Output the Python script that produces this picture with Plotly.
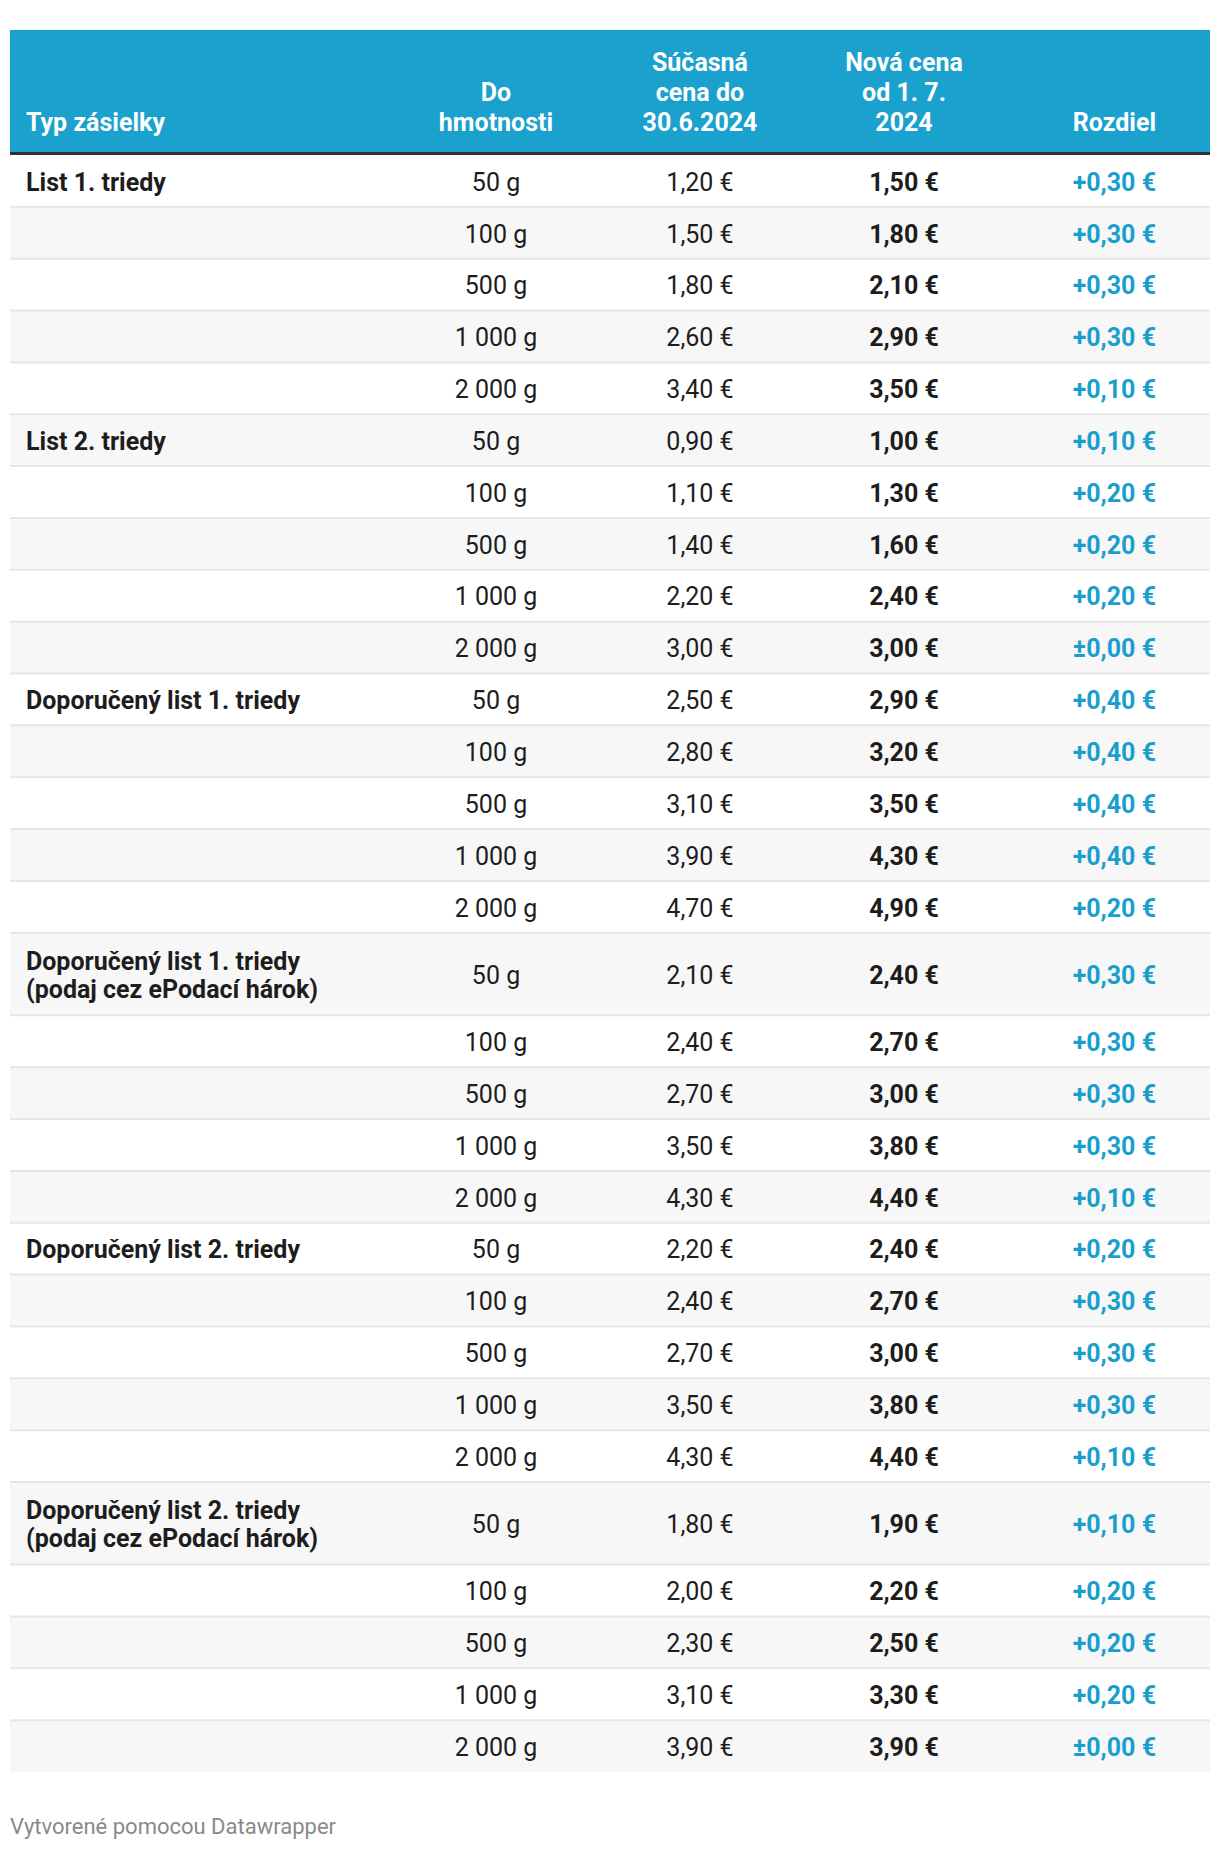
import plotly.graph_objects as go

# ---------------- data ----------------
types = [
    "List 1. triedy",
    "List 2. triedy",
    "Doporučený list 1. triedy",
    "Doporučený list 1. triedy<br>(podaj cez ePodací hárok)",
    "Doporučený list 2. triedy",
    "Doporučený list 2. triedy<br>(podaj cez ePodací hárok)",
]
weights_g = [50, 100, 500, 1000, 2000]

current_price = [
    1.20, 1.50, 1.80, 2.60, 3.40,
    0.90, 1.10, 1.40, 2.20, 3.00,
    2.50, 2.80, 3.10, 3.90, 4.70,
    2.10, 2.40, 2.70, 3.50, 4.30,
    2.20, 2.40, 2.70, 3.50, 4.30,
    1.80, 2.00, 2.30, 3.10, 3.90,
]
new_price = [
    1.50, 1.80, 2.10, 2.90, 3.50,
    1.00, 1.30, 1.60, 2.40, 3.00,
    2.90, 3.20, 3.50, 4.30, 4.90,
    2.40, 2.70, 3.00, 3.80, 4.40,
    2.40, 2.70, 3.00, 3.80, 4.40,
    1.90, 2.20, 2.50, 3.30, 3.90,
]
difference = [
    0.30, 0.30, 0.30, 0.30, 0.10,
    0.10, 0.20, 0.20, 0.20, 0.00,
    0.40, 0.40, 0.40, 0.40, 0.20,
    0.30, 0.30, 0.30, 0.30, 0.10,
    0.20, 0.30, 0.30, 0.30, 0.10,
    0.10, 0.20, 0.20, 0.20, 0.00,
]
headers = [
    ["Typ zásielky"],
    ["Do", "hmotnosti"],
    ["Súčasná", "cena do", "30.6.2024"],
    ["Nová cena", "od 1. 7.", "2024"],
    ["Rozdiel"],
]
footer = "Vytvorené pomocou Datawrapper"

# ---------------- layout constants ----------------
W, H = 1220, 1850
OFF = 8  # default page body margin
FONT = "Roboto"
FS = 25
BLUE = "#1ba1cd"
DIFF_BLUE = "#1a9fcc"
TEXT = "#1d1d1d"

T_LEFT, T_RIGHT = 10, 1210
HEAD_TOP, HEAD_BOT = 30, 152
BORDER = 3
ROW_H, TALL_H = 51.85, 82.6
TXT_DY = 3.5          # vertical nudge of text glyphs
LABEL_LS = 28         # line spacing of two-line labels

col_x = [26, 496, 700, 904, 1156]
HEAD_LAST = 125
HEAD_LS = 30


def fmt_eur(v):
    return f"{v:.2f}".replace(".", ",") + " €"


def fmt_diff(v):
    sign = "±" if abs(v) < 1e-9 else ("+" if v > 0 else "−")
    return sign + f"{abs(v):.2f}".replace(".", ",") + " €"


def fmt_w(g):
    return f"{g:,}".replace(",", " ") + " g"


# build rows
col1 = []
heights = []
first_row_of_type = []
for t in types:
    for j, w in enumerate(weights_g):
        col1.append(fmt_w(w))
        heights.append(TALL_H if (j == 0 and "<br>" in t) else ROW_H)
        if j == 0:
            first_row_of_type.append(len(heights) - 1)

centers, tops = [], []
y = HEAD_BOT + BORDER
for h in heights:
    tops.append(y)
    centers.append(y + h / 2)
    y += h

fig = go.Figure()

# header background
fig.add_trace(go.Bar(
    orientation="h", y=[(HEAD_TOP + HEAD_BOT) / 2], x=[T_RIGHT - T_LEFT],
    base=[T_LEFT], width=[HEAD_BOT - HEAD_TOP], marker=dict(color=BLUE, line=dict(width=0)),
    hoverinfo="skip", showlegend=False))
# header border
fig.add_trace(go.Bar(
    orientation="h", y=[HEAD_BOT + BORDER / 2], x=[T_RIGHT - T_LEFT],
    base=[T_LEFT], width=[BORDER], marker=dict(color="#333333", line=dict(width=0)),
    hoverinfo="skip", showlegend=False))
# row backgrounds
fig.add_trace(go.Bar(
    orientation="h", y=centers, x=[T_RIGHT - T_LEFT] * len(centers),
    base=[T_LEFT] * len(centers), width=heights,
    marker=dict(color=["#ffffff" if i % 2 == 0 else "#f7f7f7" for i in range(len(centers))],
                line=dict(width=0)),
    hoverinfo="skip", showlegend=False))

# separators
for tp in tops[1:]:
    fig.add_shape(type="line", xref="x", yref="y", x0=T_LEFT, x1=T_RIGHT, y0=tp, y1=tp,
                  line=dict(color="#e6e6e6", width=2), layer="above")

# header text (lines stacked from the bottom)
hpos = ["middle right", "middle center", "middle center", "middle center", "middle left"]
for k in range(5):
    lines = headers[k]
    n = len(lines)
    ys = [HEAD_LAST - HEAD_LS * (n - 1 - i) for i in range(n)]
    fig.add_trace(go.Scatter(
        x=[col_x[k]] * n, y=ys, mode="text", text=lines,
        textposition=hpos[k],
        textfont=dict(family=FONT, size=FS, color="white", weight="bold"),
        hoverinfo="skip", showlegend=False))

# type labels (first column), multi-line labels split into lines
lab_txt, lab_y = [], []
for t, r in zip(types, first_row_of_type):
    parts = t.split("<br>")
    n = len(parts)
    for i, p in enumerate(parts):
        lab_txt.append(p)
        lab_y.append(centers[r] + TXT_DY + (i - (n - 1) / 2) * LABEL_LS)
fig.add_trace(go.Scatter(
    x=[col_x[0]] * len(lab_txt), y=lab_y, mode="text", text=lab_txt,
    textposition="middle right",
    textfont=dict(family=FONT, size=FS, color=TEXT, weight="bold"),
    hoverinfo="skip", showlegend=False))

# other body columns
cols = [
    (col1, "middle center", TEXT, "normal"),
    ([fmt_eur(v) for v in current_price], "middle center", TEXT, "normal"),
    ([fmt_eur(v) for v in new_price], "middle center", TEXT, "bold"),
    ([fmt_diff(v) for v in difference], "middle left", DIFF_BLUE, "bold"),
]
ty = [c + TXT_DY for c in centers]
for k, (txt, pos, colr, wgt) in enumerate(cols, start=1):
    fig.add_trace(go.Scatter(
        x=[col_x[k]] * len(txt), y=ty, mode="text", text=txt, textposition=pos,
        textfont=dict(family=FONT, size=FS, color=colr, weight=wgt),
        hoverinfo="skip", showlegend=False))

# footer
fig.add_trace(go.Scatter(
    x=[T_LEFT], y=[1828], mode="text", text=[footer], textposition="middle right",
    textfont=dict(family=FONT, size=22, color="#8a8a8a"),
    hoverinfo="skip", showlegend=False))

fig.update_layout(
    width=W - OFF, height=H - OFF, margin=dict(l=0, r=0, t=0, b=0),
    paper_bgcolor="white", plot_bgcolor="white", barmode="overlay", bargap=0,
    xaxis=dict(range=[OFF, W], visible=False, fixedrange=True),
    yaxis=dict(range=[H, OFF], visible=False, fixedrange=True),
)

fig.write_html("out.html", config={"displayModeBar": False})
